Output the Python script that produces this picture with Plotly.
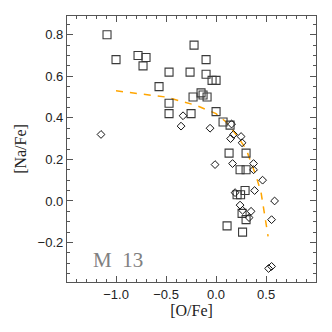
import plotly.graph_objects as go

# [O/Fe], [Na/Fe] for the two samples in M 13
sq_ofe = [-1.09, -1.00, -0.78, -0.70, -0.73, -0.57, -0.47, -0.47, -0.47, -0.26,
          -0.22, -0.10, -0.10, -0.04, 0.00, -0.15, -0.13, -0.23, -0.09, -0.25,
          0.00, 0.07, 0.14, 0.13, 0.30, 0.24, 0.30, 0.29, 0.21, 0.245,
          0.26, 0.30, 0.11, 0.265]
sq_nafe = [0.80, 0.68, 0.70, 0.69, 0.65, 0.55, 0.62, 0.47, 0.42, 0.62,
           0.75, 0.68, 0.61, 0.58, 0.58, 0.52, 0.51, 0.50, 0.50, 0.42,
           0.43, 0.38, 0.365, 0.23, 0.23, 0.15, 0.15, 0.05, 0.03, 0.03,
           -0.06, -0.09, -0.12, -0.15]

dm_ofe = [-1.15, -0.33, -0.35, -0.06, 0.155, 0.145, 0.175, 0.25, 0.26, -0.01,
          0.165, 0.375, 0.375, 0.465, 0.385, 0.19, 0.585, 0.24, 0.265, 0.35,
          0.33, 0.555, 0.525, 0.555]
dm_nafe = [0.32, 0.41, 0.36, 0.35, 0.37, 0.30, 0.32, 0.31, 0.28, 0.175,
           0.18, 0.18, 0.15, 0.10, 0.05, 0.04, 0.00, -0.02, -0.045, -0.05,
           -0.08, -0.09, -0.325, -0.315]

# dashed trend curve
fit_ofe = [-1.0, -0.5, -0.2, 0.0, 0.1, 0.2, 0.3, 0.4, 0.45, 0.52]
fit_nafe = [0.53, 0.50, 0.46, 0.42, 0.38, 0.32, 0.25, 0.12, 0.04, -0.17]

fig = go.Figure()
fig.add_trace(go.Scatter(
    x=fit_ofe, y=fit_nafe, mode="lines",
    line=dict(color="#ffa500", width=1.5, dash="7px,7px"),
    hoverinfo="skip"))
fig.add_trace(go.Scatter(
    x=sq_ofe, y=sq_nafe, mode="markers",
    marker=dict(symbol="square-open", size=8, color="#3a3a3a",
                line=dict(width=1.1, color="#3a3a3a"))))
fig.add_trace(go.Scatter(
    x=dm_ofe, y=dm_nafe, mode="markers",
    marker=dict(symbol="diamond-open", size=6, color="#111111",
                line=dict(width=1, color="#111111"))))

axis_common = dict(
    showline=True, linecolor="#555555", linewidth=1.3, mirror="allticks",
    ticks="inside", ticklen=6, tickwidth=1.2, tickcolor="#555555",
    showgrid=False, zeroline=False, automargin=False,
    tickfont=dict(family="Liberation Sans", size=13, color="#222222"),
)

fig.update_xaxes(
    range=[-1.49, 0.999], tickmode="linear", tick0=0, dtick=0.5, tickformat=".1f",
    minor=dict(dtick=0.1, tick0=0, ticks="inside", ticklen=3, tickwidth=1, tickcolor="#555555", showgrid=False),
    title=dict(text="[O/Fe]", font=dict(family="Liberation Serif", size=16, color="#222222"), standoff=2),
    **axis_common)
fig.update_yaxes(
    range=[-0.39, 0.89], tickmode="linear", tick0=0, dtick=0.2, tickformat=".1f",
    minor=dict(dtick=0.05, tick0=0, ticks="inside", ticklen=3, tickwidth=1, tickcolor="#555555", showgrid=False),
    title=dict(text="[Na/Fe]", font=dict(family="Liberation Serif", size=16, color="#222222"), standoff=6),
    **axis_common)

fig.add_annotation(x=-0.985, y=-0.285, xref="x", yref="y", text="M\u00a0\u00a013",
                   showarrow=False,
                   font=dict(family="Liberation Serif", size=21, color="#808080"))

# page body adds an 8px offset, so the figure is 324 wide with shifted margins
fig.update_layout(
    width=324, height=324, showlegend=False,
    margin=dict(l=59, r=16, t=8, b=50),
    plot_bgcolor="white", paper_bgcolor="white",
)

fig.write_html("out.html")
